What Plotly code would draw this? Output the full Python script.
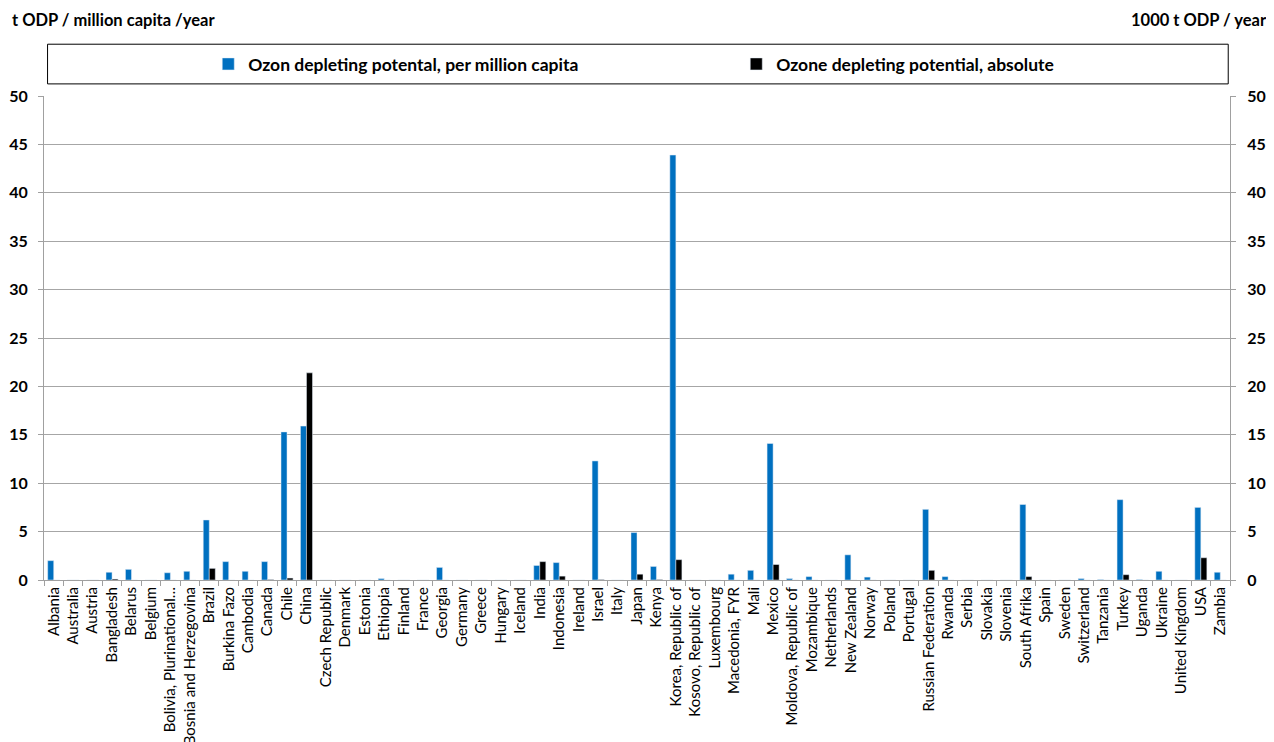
import plotly.graph_objects as go

countries = ["Albania", "Australia", "Austria", "Bangladesh", "Belarus", "Belgium",
             "Bolivia, Plurinational…", "Bosnia and Herzegovina", "Brazil", "Burkina Fazo",
             "Cambodia", "Canada", "Chile", "China", "Czech Republic", "Denmark", "Estonia",
             "Ethiopia", "Finland", "France", "Georgia", "Germany", "Greece", "Hungary",
             "Iceland", "India", "Indonesia", "Ireland", "Israel", "Italy", "Japan", "Kenya",
             "Korea, Republic of", "Kosovo, Republic of", "Luxembourg", "Macedonia, FYR",
             "Mali", "Mexico", "Moldova, Republic of", "Mozambique", "Netherlands",
             "New Zealand", "Norway", "Poland", "Portugal", "Russian Federation", "Rwanda",
             "Serbia", "Slovakia", "Slovenia", "South Afrika", "Spain", "Sweden",
             "Switzerland", "Tanzania", "Turkey", "Uganda", "Ukraine", "United Kingdom",
             "USA", "Zambia"]

per_capita = [2.0, 0, 0, 0.8, 1.1, 0,
              0.75, 0.9, 6.2, 1.9,
              0.9, 1.9, 15.3, 15.9, 0, 0, 0,
              0.15, 0, 0, 1.3, 0, 0, 0,
              0, 1.5, 1.8, 0, 12.3, 0, 4.9, 1.4,
              43.9, 0, 0, 0.6,
              1.0, 14.1, 0.15, 0.35, 0,
              2.6, 0.3, 0, 0, 7.3, 0.35,
              0, 0, 0, 7.8, 0, 0,
              0.15, 0.05, 8.3, 0.05, 0.9, 0,
              7.5, 0.8]

absolute = [0, 0, 0, 0.1, 0, 0,
            0, 0, 1.2, 0,
            0, 0.05, 0.2, 21.4, 0, 0, 0,
            0, 0, 0, 0, 0, 0, 0,
            0, 1.9, 0.4, 0, 0.05, 0, 0.6, 0.05,
            2.1, 0, 0, 0,
            0, 1.6, 0, 0, 0,
            0, 0, 0, 0, 1.0, 0,
            0, 0, 0, 0.35, 0, 0,
            0, 0, 0.55, 0, 0, 0,
            2.3, 0]

y_ticks = [0, 5, 10, 15, 20, 25, 30, 35, 40, 45, 50]

FONT = "Lato"

fig = go.Figure()
fig.add_trace(go.Bar(x=countries, y=per_capita, name="Ozon depleting potental, per million capita",
                     marker=dict(color="#0070C0")))
fig.add_trace(go.Bar(x=countries, y=absolute, name="Ozone depleting potential, absolute",
                     marker=dict(color="#000000")))
# invisible trace to anchor the right axis
fig.add_trace(go.Scatter(x=[countries[0]], y=[0], yaxis="y2", mode="markers",
                         marker=dict(opacity=0), showlegend=False, hoverinfo="skip"))

fig.update_layout(
    width=1274, height=742,
    margin=dict(l=36, r=52, t=88, b=170),
    paper_bgcolor="white", plot_bgcolor="white",
    barmode="group", bargap=0.38, bargroupgap=0,
    font=dict(family=FONT, color="black"),
    showlegend=True,
    legend=dict(orientation="h", x=0.1385, xanchor="left", y=1.066, yanchor="middle",
                font=dict(family=FONT, size=17.5, color="black", weight="bold"),
                entrywidth=483, entrywidthmode="pixels",
                bgcolor="rgba(0,0,0,0)", itemclick=False),
    xaxis=dict(type="category", range=[-0.5, len(countries) - 0.5], automargin=False,
               tickangle=-90, tickfont=dict(family=FONT, size=15),
               ticks="outside", tickson="boundaries", ticklen=5, tickcolor="#A0A0A0",
               showline=True, linecolor="#A0A0A0", linewidth=1, showgrid=False),
    yaxis=dict(range=[0, 50], tickvals=y_ticks, ticks="outside", ticklen=5, tickcolor="#A0A0A0",
               automargin=False, tickfont=dict(family=FONT, size=16, weight="bold"),
               ticklabelstandoff=7,
               showline=True, linecolor="#A0A0A0", linewidth=1,
               showgrid=True, gridcolor="#A6A6A6", gridwidth=1, zeroline=False),
    yaxis2=dict(range=[0, 50], tickvals=y_ticks, overlaying="y", side="right",
                ticks="outside", ticklen=5, tickcolor="#A0A0A0", automargin=False,
                tickfont=dict(family=FONT, size=16, weight="bold"), ticklabelstandoff=8,
                showline=True, linecolor="#A0A0A0", linewidth=1, showgrid=False, zeroline=False),
)

fig.add_shape(type="rect", xref="paper", yref="paper",
              x0=0.003, x1=0.9985, y0=1.025, y1=1.107,
              line=dict(color="black", width=1), fillcolor="rgba(0,0,0,0)")

fig.add_annotation(text="t ODP / million capita /year", xref="paper", yref="paper",
                   x=-0.0286, y=1.157, xanchor="left", yanchor="middle", showarrow=False,
                   font=dict(family=FONT, size=16.5, weight="bold"))
fig.add_annotation(text="1000 t ODP / year", xref="paper", yref="paper",
                   x=1.0329, y=1.157, xanchor="right", yanchor="middle", showarrow=False,
                   font=dict(family=FONT, size=16.5, weight="bold"))

fig.write_html("out.html")
